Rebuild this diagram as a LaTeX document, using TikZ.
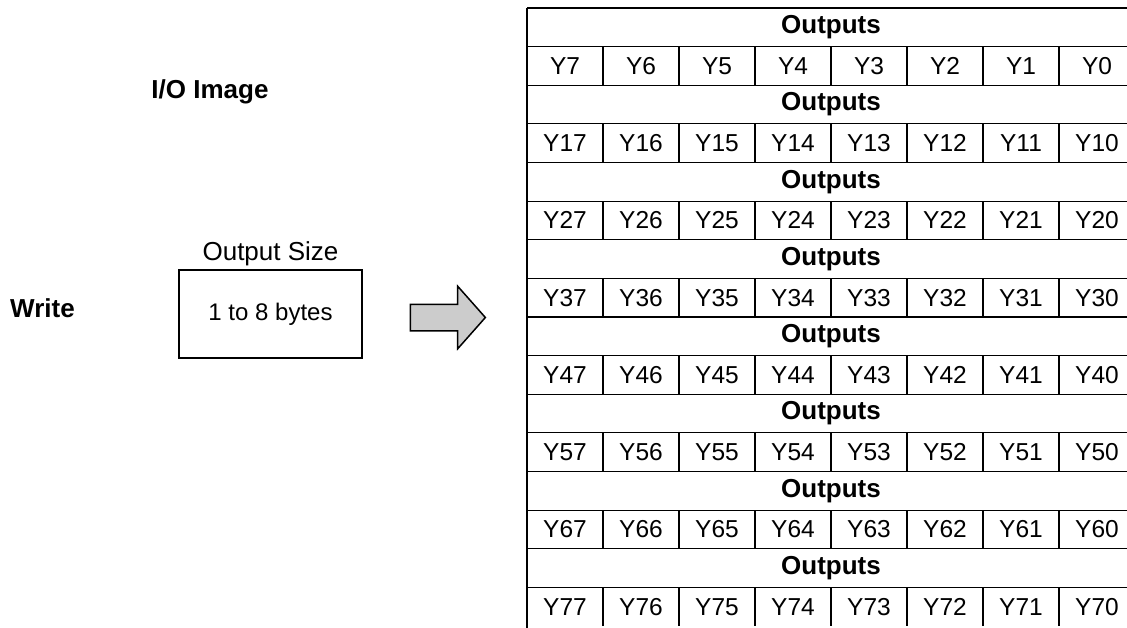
\documentclass[tikz,border=0pt]{standalone}
\usepackage{fontspec}
\setmainfont{Liberation Sans}
\usetikzlibrary{positioning,shapes.arrows}

\begin{document}
\begin{tikzpicture}[x=1pt,y=-1pt,
		grid/.style={line width=1.2pt},
		hdr/.style={font=\fontsize{26}{30}\selectfont\bfseries},
		cell/.style={font=\fontsize{24.5}{28}\selectfont},
		lbl/.style={font=\fontsize{26}{30}\selectfont\bfseries},
		sizebox/.style={draw,line width=1.2pt,minimum width=183pt,minimum height=88pt,font=\fontsize{24}{28}\selectfont},
		bigarrow/.style={single arrow,draw,line width=1.5pt,fill=black!20,inner xsep=0pt,inner ysep=12.5pt,
			minimum height=75pt,minimum width=61pt,single arrow head extend=18pt,single arrow tip angle=97}]
		\useasboundingbox (0,0) rectangle (1127,627);% page size
		\clip (0,0) rectangle (1127,627);
		% left side
		\node[lbl] (image) at (210,92) {I/O Image};
		\node[lbl] (write) at (42.5,308) {Write};
		\node[sizebox] (size) at (270.5,314) {1 to 8 bytes};
		\node[font=\fontsize{26}{30}\selectfont,above=0pt of size] (sizelbl) {Output Size};
		\node[bigarrow] (arrow) at (442,317.5) {};
		% table grid
		\foreach \k in {0,...,15}
			\draw[grid] (527,{8+38.625*\k}) -- (1140,{8+38.625*\k});
		\draw[grid] (527,8) -- (527,640);
		\foreach \r in {0,...,7}
			\foreach \c in {1,...,7}
				\draw[grid] ({527+76*\c},{8+38.625*(2*\r+1)}) -- ({527+76*\c},{8+38.625*(2*\r+2)});
		% table texts
		\foreach \r in {0,...,7} {
			\node[hdr] (out\r) at (831,{8+38.625*(2*\r+0.5)}) {Outputs};
			\foreach \c in {0,...,7} {
				\pgfmathtruncatemacro\bit{7-\c}
				\node[cell] (y\r\bit) at ({565+76*\c},{8+38.625*(2*\r+1.5)}) {Y\ifnum\r=0\else\r\fi\bit};
			}
		}
	\end{tikzpicture}
\end{document}
